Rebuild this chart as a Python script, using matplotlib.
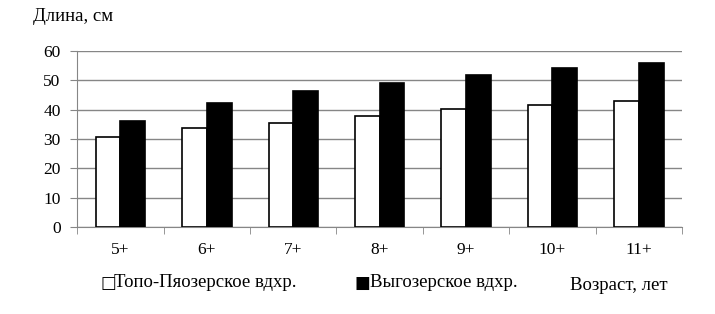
import numpy as np
import matplotlib.pyplot as plt

ages = ['5+', '6+', '7+', '8+', '9+', '10+', '11+']
topo = [30.6, 33.8, 35.4, 37.8, 40.3, 41.6, 43.0]
vyg = [36.2, 42.3, 46.4, 49.1, 51.9, 54.0, 55.7]

plt.rcParams['font.family'] = ['Liberation Serif', 'DejaVu Sans']
grey = '#868686'

fig = plt.figure(figsize=(7.15, 3.14), dpi=100)
ax = fig.add_axes([0.108, 0.277, 0.846, 0.561])

x = np.arange(len(ages))
w = 0.286
ax.bar(x - w / 2, topo, w, color='white', edgecolor='black', lw=1.2, zorder=3)
ax.bar(x + w / 2, vyg, w, color='black', edgecolor='black', lw=1.2, zorder=3)

ax.set_xlim(-0.5, len(ages) - 0.5)
ax.set_ylim(0, 60)
ax.set_yticks(range(0, 61, 10))
ax.yaxis.grid(True, color=grey, lw=1)
ax.set_axisbelow(True)
ax.set_xticks(x)
ax.set_xticklabels(ages)
ax.set_xticks(np.arange(-0.5, len(ages)), minor=True)
ax.tick_params(axis='x', which='major', length=0, pad=11, labelsize=12.5)
ax.tick_params(axis='x', which='minor', length=5, color=grey)
ax.tick_params(axis='y', length=5, color=grey, labelsize=12.5, pad=7)
for s in ['top', 'right']:
    ax.spines[s].set_visible(False)
for s in ['left', 'bottom']:
    ax.spines[s].set_color(grey)

fig.text(0.046, 0.946, 'Длина, см', fontsize=13.5, va='center')
fig.text(0.797, 0.092, 'Возраст, лет', fontsize=13.5, va='center')
# legend squares
fig.text(0.140, 0.099, '□', fontsize=12, va='center', family=['DejaVu Sans'])
fig.text(0.160, 0.099, 'Топо-Пяозерское вдхр.', fontsize=13.5, va='center')
fig.text(0.496, 0.099, '■', fontsize=12, va='center', family=['DejaVu Sans'])
fig.text(0.518, 0.099, 'Выгозерское вдхр.', fontsize=13.5, va='center')

fig.savefig('out.png', dpi=100)
